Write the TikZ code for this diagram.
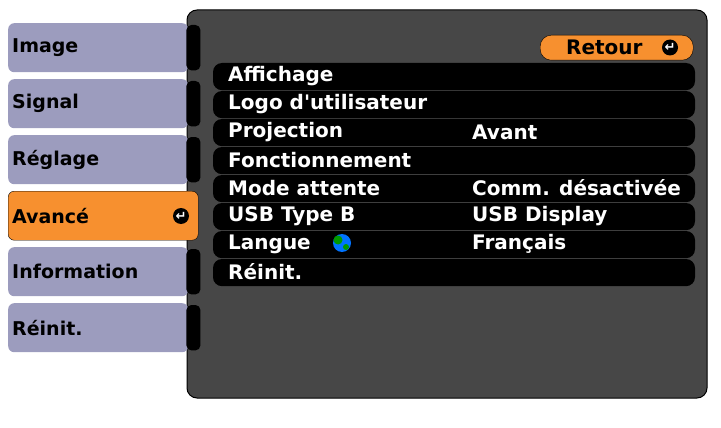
\documentclass[tikz,border=0pt]{standalone}
\usepackage{fontspec}
\setmainfont{DejaVu Sans}
\usetikzlibrary{positioning}
\definecolor{tabgray}{HTML}{9C9CBE}
\definecolor{panelgray}{HTML}{474747}
\definecolor{menuorange}{HTML}{F7902F}
\tikzset{
    Tab/.style={
    draw=none,
    fill=tabgray,
    rounded corners=6pt,
    minimum width=180pt,
    minimum height=49pt,
    inner sep=4pt,
    text width=172pt,
    anchor=north west,
    font=\bfseries\fontsize{19}{19}\selectfont,
    },
    Row/.style={fill=black, rounded corners=9pt},
    Item/.style={anchor=west, text=white, inner sep=0pt,
    font=\bfseries\fontsize{20}{20}\selectfont},
    Enter/.style={circle, fill=black, text=white, inner sep=0pt,
    minimum size=16pt, font=\bfseries\fontsize{13}{13}\selectfont},
}
\begin{document}
\begin{tikzpicture}[x=1pt, y=-1pt]
\useasboundingbox (0,0) rectangle (721,428);
% panel
\draw[fill=panelgray, draw=black, line width=1pt, rounded corners=10pt] (187,10) rectangle (707,398);
% tabs
\node [Tab] (image) at (8,23) {Image};
\node [Tab] (signal) at (8,79) {Signal};
\node [Tab] (reglage) at (8,135) {Réglage};
\node [Tab, fill=menuorange, draw=black, minimum width=190pt, text width=182pt] (avance) at (8,191) {Avancé};
\node [Tab] (info) at (8,247) {Information};
\node [Tab] (reinittab) at (8,303) {Réinit.};
\node [Enter] (aventer) at (181,216) {↵};
\foreach \t in {image,signal,reglage,info,reinittab}
    \fill[black, rounded corners=5pt] (\t.north east) ++(-2,2) rectangle ([xshift=12pt,yshift=2pt]\t.south east);
% retour
\node [draw=black, fill=menuorange, rounded corners=11pt, minimum width=153pt, minimum height=25pt,
    anchor=north west, inner sep=0pt] (retour) at (540,35) {};
\node [Item, text=black] (retourtxt) at (566,47.5) {Retour};
\node [Enter] (retenter) at (670,47.5) {↵};
% rows
\foreach \i in {0,...,7}
    \fill[Row] (213,{63+28*\i}) rectangle (695,{63+28*\i+27.2});
\node [Item] (affichage) at (228,76) {Affichage};
\node [Item] (logo) at (228,104) {Logo d\textquotesingle utilisateur};
\node [Item] (projection) at (228,132) {Projection};
\node [Item] (fonction) at (228,160) {Fonctionnement};
\node [Item] (mode) at (228,188) {Mode attente};
\node [Item] (usb) at (228,216) {USB Type B};
\node [Item] (langue) at (228,244) {Langue};
\node [Item] (reinit) at (228,272) {Réinit.};
\node [Item] (avant) at (472,132) {Avant};
\node [Item] (comm) at (472,188) {Comm. désactivée};
\node [Item] (usbdisp) at (472,216) {USB Display};
\node [Item] (francais) at (472,244) {Français};
% globe
\node [circle, fill=blue!55!cyan, minimum size=18pt, inner sep=0pt] (globe) at (342,243) {};
\fill[green!60!black] (globe.center) ++(-4,-3) circle (4.5pt);
\fill[green!60!black] (globe.center) ++(4,4) circle (3pt);
\end{tikzpicture}
\end{document}
